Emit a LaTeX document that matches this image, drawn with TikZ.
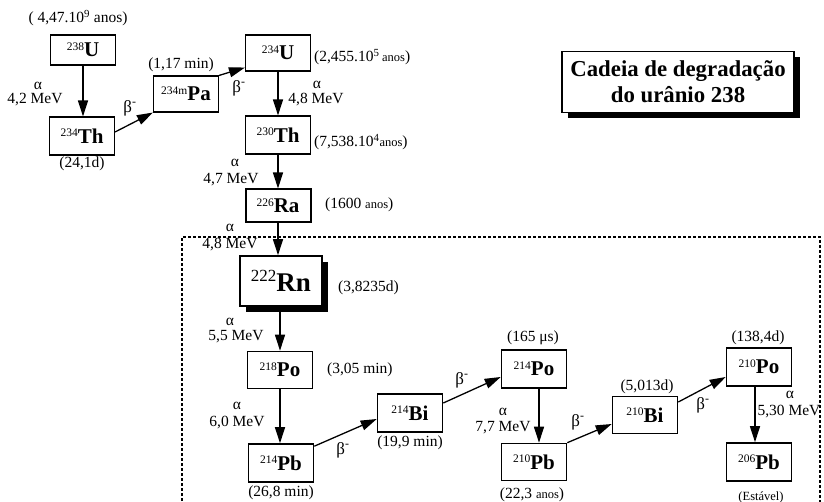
\documentclass[tikz,border=0pt]{standalone}
\usepackage{fontspec}
\setmainfont{Liberation Serif}
\usetikzlibrary{arrows.meta,shadows}
\newcommand\nuc[2]{\raisebox{6.5pt}{\fontsize{11.5}{11.5}\selectfont #1}{\fontsize{21}{21}\selectfont\bfseries #2}}
\newcommand\bmin{{\fontsize{17}{17}\selectfont β\textsuperscript{-}}}
\newcommand\sm[1]{{\fontsize{12.5}{12.5}\selectfont #1}}
\begin{document}
\begin{tikzpicture}[x=1pt,y=-1pt,
  nbox/.style={draw, line width=1.1pt, fill=white, inner sep=0pt, minimum width=65pt, minimum height=37pt},
  tbox/.style={nbox, line width=1.6pt},
  lab/.style={font=\fontsize{15.5}{17}\selectfont, inner sep=0pt},
  arr/.style={line width=1.3pt, -{Triangle[length=16pt,width=10pt]}},
  blkshadow/.style={general shadow={fill=black, shadow xshift=6pt, shadow yshift=-6pt}},
]
\useasboundingbox (0,0) rectangle (824,502);

% dashed frame
\draw[line width=1.2pt, dash pattern=on 3pt off 2pt] (182,506) -- (182,237) -- (820,237) -- (820,506);

% boxes
\node[nbox, minimum height=30pt] (U238) at (83,50) {\nuc{238}{U}};
\node[nbox, minimum height=38pt] (Th234) at (82,136) {\nuc{234}{Th}};
\node[nbox, minimum height=36pt] (Pa) at (186,94) {\nuc{234m}{Pa}};
\node[nbox, minimum height=36pt] (U234) at (278,53) {\nuc{234}{U}};
\node[nbox, minimum height=38pt] (Th230) at (278,135) {\nuc{230}{Th}};
\node[tbox, line width=2pt, minimum height=33pt] (Ra) at (278,206) {\nuc{226}{Ra}};
\node[tbox, minimum width=82pt, minimum height=50pt, blkshadow] (Rn) at (281,281)
  {\raisebox{9.5pt}{\fontsize{17}{17}\selectfont 222}{\fontsize{27}{27}\selectfont\bfseries Rn}};
\node[tbox] (Po218) at (280,370) {\nuc{218}{Po}};
\node[tbox, minimum height=38pt] (Pb214) at (281,463) {\nuc{214}{Pb}};
\node[tbox, minimum height=38pt] (Bi214) at (410,413) {\nuc{214}{Bi}};
\node[tbox, minimum height=38pt] (Po214) at (534,369) {\nuc{214}{Po}};
\node[tbox] (Pb210) at (534,462) {\nuc{210}{Pb}};
\node[tbox] (Bi210) at (645,415) {\nuc{210}{Bi}};
\node[tbox, minimum height=38pt] (Po210) at (759,367) {\nuc{210}{Po}};
\node[tbox, minimum height=38pt] (Pb206) at (759,462) {\nuc{206}{Pb}};

% title
\node[draw, line width=1.1pt, fill=white, minimum width=232pt, minimum height=61pt, inner sep=0pt,
  align=center, font=\fontsize{22.8}{26}\selectfont\bfseries, blkshadow] (title) at (678,82)
  {Cadeia de degradação\\do urânio 238};

% arrows
\draw[arr] (U238.south) -- (U238.south |- Th234.north);
\draw[arr] ([yshift=4pt]Th234.east) -- (Pa.south west);
\draw[arr] (Pa.north east) -- ([yshift=4pt]U234.south west);
\draw[arr] (U234.south) -- (U234.south |- Th230.north);
\draw[arr] (Th230.south) -- (Th230.south |- Ra.north);
\draw[arr] (Ra.south) -- (Ra.south |- Rn.north);
\draw[arr] ([xshift=-1pt]Rn.south) -- ([xshift=-1pt]Rn.south |- Po218.north);
\draw[arr] (Po218.south) -- (Po218.south |- Pb214.north);
\draw[arr] ([yshift=-3pt]Pb214.north east) -- ([yshift=-6pt]Bi214.west);
\draw[arr] ([yshift=10pt]Bi214.east) -- ([yshift=-8pt]Po214.west);
\draw[arr] ([xshift=5pt]Po214.south) -- ([xshift=5pt]Po214.south |- Pb210.north);
\draw[arr] (Pb210.north east) -- ([yshift=-9pt]Bi210.west);
\draw[arr] ([yshift=13pt]Bi210.east) -- ([yshift=-10pt]Po210.west);
\draw[arr] ([xshift=-4pt]Po210.south) -- ([xshift=-4pt]Po210.south |- Pb206.north);

% labels
\node[lab] (t1) at (78,18) {( 4,47.10\textsuperscript{9} anos)};
\node[lab] (a1) at (38,86) {α};
\node[lab] (e1) at (35,100) {4,2 MeV};
\node[lab] (b1) at (130,108) {\bmin};
\node[lab] (t2) at (82,164) {(24,1d)};
\node[lab] (t3) at (181,65) {(1,17 min)};
\node[lab] (b2) at (239,88) {\bmin};
\node[lab, anchor=west] (t4) at (314,57) {(2,455.10\textsuperscript{5}\,\sm{anos})};
\node[lab] (a2) at (317,85) {α};
\node[lab] (e2) at (316,100) {4,8 MeV};
\node[lab, anchor=west] (t5) at (314,142) {(7,538.10\textsuperscript{4}\sm{anos})};
\node[lab] (a3) at (235,163) {α};
\node[lab] (e3) at (231,180) {4,7 MeV};
\node[lab, anchor=west] (t6) at (325,205) {(1600 \sm{anos})};
\node[lab] (a4) at (230,228) {α};
\node[lab] (e4) at (230,245) {4,8 MeV};
\node[lab, anchor=west] (t7) at (338,288) {(3,8235d)};
\node[lab] (a5) at (230,322) {α};
\node[lab] (e5) at (236,337) {5,5 MeV};
\node[lab, anchor=west] (t8) at (327,370) {(3,05 min)};
\node[lab] (a6) at (237,406) {α};
\node[lab] (e6) at (237,423) {6,0 MeV};
\node[lab] (b3) at (343,450) {\bmin};
\node[lab] (t9) at (410,443) {(19,9 min)};
\node[lab] (t10) at (281,493) {(26,8 min)};
\node[lab] (b4) at (462,380) {\bmin};
\node[lab] (t11) at (533,338) {(165 μs)};
\node[lab] (a7) at (503,412) {α};
\node[lab] (e7) at (503,428) {7,7 MeV};
\node[lab] (t12) at (532,495) {(22,3 \sm{anos})};
\node[lab] (b5) at (578,422) {\bmin};
\node[lab] (t13) at (647,387) {(5,013d)};
\node[lab] (b6) at (703,405) {\bmin};
\node[lab] (t14) at (758,338) {(138,4d)};
\node[lab] (a8) at (790,395) {α};
\node[lab] (e8) at (789,412) {5,30 MeV};
\node[lab] (t15) at (761,497) {\sm{(Estável)}};
\end{tikzpicture}
\end{document}
